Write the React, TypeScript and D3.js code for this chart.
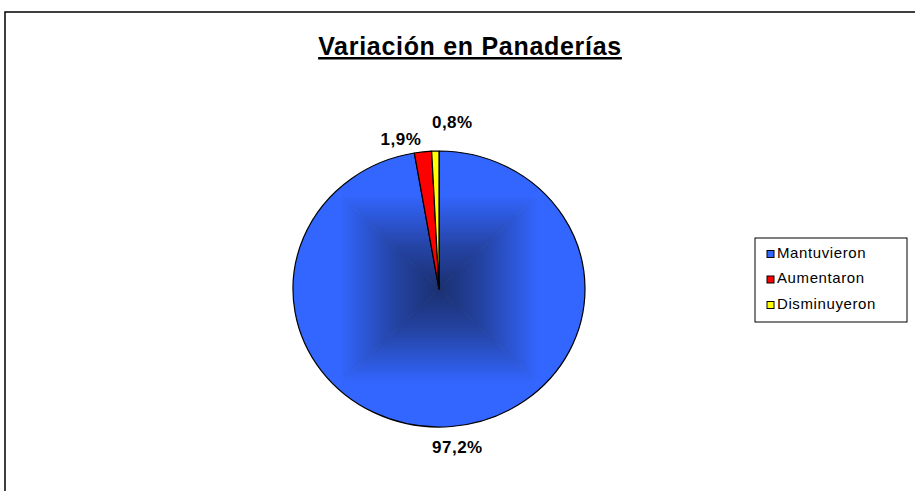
import React from "react";
import * as d3 from "d3";

const categories = ["Mantuvieron", "Aumentaron", "Disminuyeron"];
const values = [97.2, 1.9, 0.8];
const labels = ["97,2%", "1,9%", "0,8%"];
const colors = ["#3366FF", "#FF0000", "#FFFF00"];
const title = "Variación en Panaderías";

const W = 915;
const H = 491;
const cx = 439;
const cy = 289;
const rx = 146;
const ry = 138;
// label nudges (px) relative to the outward point on the rim
const labelNudge: [number, number][] = [
  [6, 22],
  [-22, -11],
  [17, -28],
];

export default function App() {
  const pie = d3.pie<number>().sort(null).value((d) => d);
  const arcs = pie(values);
  const arc = d3.arc<d3.PieArcDatum<number>>().innerRadius(0).outerRadius(ry);
  const sx = rx / ry;

  const dark = "#1b3070";
  const stops = [
    { o: 0, c: dark },
    { o: 0.3, c: "#2443a3" },
    { o: 0.68, c: "#3366FF" },
    { o: 1, c: "#3366FF" },
  ];
  const tris = [
    { id: "gT", pts: [[cx, cy], [cx - rx, cy - ry], [cx + rx, cy - ry]], x2: cx, y2: cy - ry },
    { id: "gB", pts: [[cx, cy], [cx - rx, cy + ry], [cx + rx, cy + ry]], x2: cx, y2: cy + ry },
    { id: "gL", pts: [[cx, cy], [cx - rx, cy - ry], [cx - rx, cy + ry]], x2: cx - rx, y2: cy },
    { id: "gR", pts: [[cx, cy], [cx + rx, cy - ry], [cx + rx, cy + ry]], x2: cx + rx, y2: cy },
  ];

  return (
    <svg width={W} height={H} style={{ position: "absolute", left: 0, top: 0, background: "#fff" }}
      fontFamily="'Liberation Sans', Arial, sans-serif">
      <defs>
        {tris.map((t) => (
          <linearGradient key={t.id} id={t.id} gradientUnits="userSpaceOnUse" x1={cx} y1={cy} x2={t.x2} y2={t.y2}>
            {stops.map((s, i) => (
              <stop key={i} offset={s.o} stopColor={s.c} />
            ))}
          </linearGradient>
        ))}
        <clipPath id="blueClip">
          <path d={arc(arcs[0]) || ""} transform={`translate(${cx},${cy}) scale(${sx},1)`} />
        </clipPath>
      </defs>
      <rect x={5} y={12} width={W + 20} height={H + 20} fill="#fff" stroke="#000" strokeWidth={1.5} />
      <text x={470} y={55} textAnchor="middle" fontSize={25} fontWeight="bold" letterSpacing={0.7}
        textDecoration="underline">
        {title}
      </text>
      <g clipPath="url(#blueClip)">
        {tris.map((t) => (
          <polygon key={t.id} points={t.pts.map((p) => p.join(",")).join(" ")} fill={`url(#${t.id})`}
            stroke={`url(#${t.id})`} strokeWidth={1} />
        ))}
      </g>
      <g transform={`translate(${cx},${cy}) scale(${sx},1)`}>
        {arcs.map((a, i) => (
          <path key={i} d={arc(a) || ""} fill={i === 0 ? "none" : colors[i]} stroke="#000" strokeWidth={1.2}
            vectorEffect="non-scaling-stroke" strokeLinejoin="round" />
        ))}
      </g>
      {arcs.map((a, i) => {
        const mid = (a.startAngle + a.endAngle) / 2;
        const x = cx + Math.sin(mid) * rx + labelNudge[i][0];
        const y = cy - Math.cos(mid) * ry + labelNudge[i][1];
        return (
          <text key={i} x={x} y={y} textAnchor="middle" dominantBaseline="middle" fontSize={17}
            letterSpacing={0.5} fontWeight="bold">
            {labels[i]}
          </text>
        );
      })}
      <g transform="translate(755,238)">
        <rect x={0} y={0} width={152} height={84} fill="#fff" stroke="#000" strokeWidth={1} />
        {categories.map((c, i) => (
          <g key={c} transform={`translate(0,${16 + i * 25.5})`}>
            <rect x={12} y={-3.5} width={7} height={7} fill={colors[i]} stroke="#000" strokeWidth={1} />
            <text x={22} y={0} dominantBaseline="middle" fontSize={15} letterSpacing={0.6}>{c}</text>
          </g>
        ))}
      </g>
    </svg>
  );
}
